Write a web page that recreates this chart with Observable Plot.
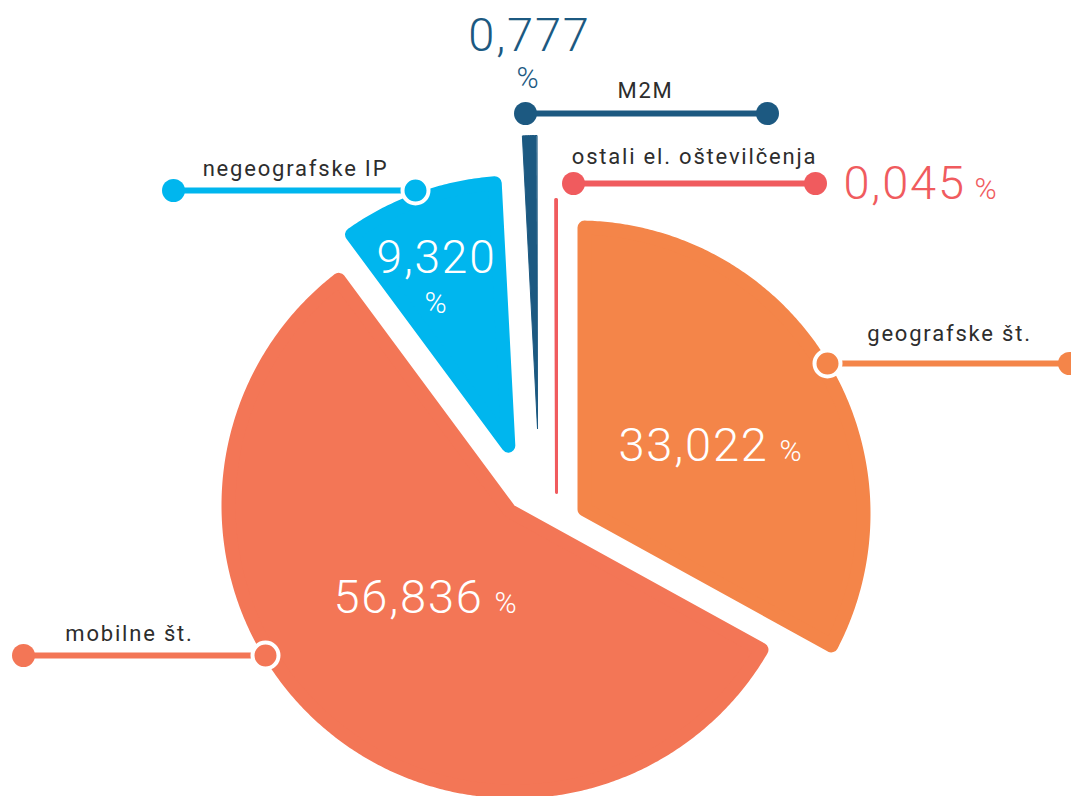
<!DOCTYPE html>
<html><head><meta charset="utf-8">
<script src="https://cdn.jsdelivr.net/npm/d3@7"></script>
<script src="https://cdn.jsdelivr.net/npm/@observablehq/plot@0.6"></script>
<style>
html,body{margin:0;padding:0;background:#fff;overflow:hidden;}
#chart{width:1071px;height:796px;overflow:hidden;}
#chart svg{display:block;}
</style></head><body><div id="chart"></div>
<script>
// ---- data ----
const categories = ["geografske št.", "mobilne št.", "negeografske IP", "M2M", "ostali el. oštevilčenja"];
const shares = [33.022, 56.836, 9.320, 0.777, 0.045];
const shareLabels = ["33,022", "56,836", "9,320", "0,777", "0,045"];

// ---- style / layout ----
const sliceColors = ["#F48549", "#F37656", "#00B6EE", "#1C5981", "#F05B5E"];
const textColor = "#2d2d2d";
const layout = {
  center: [545, 490], radius: 293, corner: 7,
  explode: [[32, 23], [-31, 15], [-29, -22], [-8, -62], [11, 2]],
  // leader line: x1, x2, y, which end has the ringed dot
  leader: [[827, 1069, 363, "x1"], [23, 265, 655, "x2"], [173, 415, 190, "x2"], [525, 767, 113, null], [573, 815, 183, null]],
  name: [[949, 340], [129, 640], [295, 175], [645, 97], [694, 163]],
  // value: [x, y, anchor, size], percent: [x, y, anchor, size]
  value: [[618, 460, "start", 47], [333, 612, "start", 47], [436, 272, "middle", 46], [529, 50, "middle", 47], [843, 198, "start", 47]],
  pct: [[779, 460, "start", 30], [494, 612, "start", 30], [436, 312, "middle", 30], [528, 87, "middle", 30], [974, 198, "start", 30]],
  valueInside: [true, true, true, false, false]
};

const [CX, CY] = layout.center;
const R = layout.radius, RHO = layout.corner;
const arcs = d3.pie().sort(null).value(d => d)(shares);

const bigPts = [], thinPts = [];
arcs.forEach((p, i) => {
  const [ox, oy] = layout.explode[i];
  const ax = CX + ox, ay = CY + oy;
  const theta = p.endAngle - p.startAngle;
  const big = theta > 0.1;
  const rho = big ? RHO : 0;
  const Rr = R - rho;
  const delta = big ? Math.asin(rho / Rr) : 0;
  const mid = (p.startAngle + p.endAngle) / 2;
  const shift = big ? rho / Math.sin(theta / 2) : 0;
  const out = big ? bigPts : thinPts;
  const cat = categories[i], color = sliceColors[i];
  out.push({cat, color, x: ax + shift * Math.sin(mid), y: ay - shift * Math.cos(mid)});
  const a0 = p.startAngle + delta, a1 = p.endAngle - delta;
  const n = Math.max(2, Math.ceil((a1 - a0) / (Math.PI / 360)));
  for (let k = 0; k <= n; k++) {
    const a = a0 + (a1 - a0) * k / n;
    out.push({cat, color, x: ax + Rr * Math.sin(a), y: ay - Rr * Math.cos(a)});
  }
});

const leaders = categories.map((c, i) => ({cat: c, color: sliceColors[i], x1: layout.leader[i][0], x2: layout.leader[i][1], y: layout.leader[i][2], ring: layout.leader[i][3]}));
const endDots = leaders.flatMap(d => [
  {color: d.color, x: d.x1, y: d.y, ring: d.ring === "x1"},
  {color: d.color, x: d.x2, y: d.y, ring: d.ring === "x2"}
]);
const names = categories.map((c, i) => ({text: c, x: layout.name[i][0], y: layout.name[i][1]}));
const values = shareLabels.map((s, i) => ({text: s, x: layout.value[i][0], y: layout.value[i][1], anchor: layout.value[i][2], size: layout.value[i][3], color: layout.valueInside[i] ? "#ffffff" : sliceColors[i]}));
const pcts = shareLabels.map((s, i) => ({text: "%", x: layout.pct[i][0], y: layout.pct[i][1], anchor: layout.pct[i][2], size: layout.pct[i][3], color: layout.valueInside[i] ? "#ffffff" : sliceColors[i]}));

const textMarks = (data) => ["start", "middle"].map(anchor =>
  Plot.text(data.filter(d => d.anchor === anchor), {
    x: "x", y: "y", text: "text", fill: "color", fontSize: d => d.size,
    textAnchor: anchor, lineAnchor: "bottom", fontWeight: 300
  }));

const chart = Plot.plot({
  width: 1071, height: 796, margin: 0,
  x: {domain: [0, 1071], range: [0, 1071], axis: null},
  y: {domain: [0, 796], range: [0, 796], axis: null},
  color: {type: "identity"},
  style: {fontFamily: "Roboto, 'Open Sans', sans-serif", background: "#ffffff", overflow: "hidden", letterSpacing: "1.8px"},
  marks: [
    Plot.line(bigPts, {x: "x", y: "y", z: "cat", fill: "color", stroke: "color", strokeWidth: 2 * RHO, strokeLinejoin: "round", curve: "linear-closed"}),
    Plot.line(thinPts.filter(d => d.cat === "M2M"), {x: "x", y: "y", z: "cat", fill: "color", stroke: "color", strokeWidth: 1, strokeLinejoin: "round", curve: "linear-closed"}),
    Plot.line(thinPts.filter(d => d.cat !== "M2M"), {x: "x", y: "y", z: "cat", fill: "color", stroke: "color", strokeWidth: 3, strokeLinejoin: "round", curve: "linear-closed"}),
    Plot.ruleY(leaders, {y: "y", x1: "x1", x2: "x2", stroke: "color", strokeWidth: 6}),
    Plot.dot(endDots.filter(d => !d.ring), {x: "x", y: "y", r: 11.5, fill: "color", stroke: null}),
    Plot.dot(endDots.filter(d => d.ring), {x: "x", y: "y", r: 13, fill: "color", stroke: "#ffffff", strokeWidth: 4}),
    Plot.text(names, {x: "x", y: "y", text: "text", fill: textColor, fontSize: 22, textAnchor: "middle", lineAnchor: "bottom"}),
    ...textMarks(values),
    ...textMarks(pcts)
  ]
});
document.getElementById("chart").appendChild(chart);
</script>
</body></html>
